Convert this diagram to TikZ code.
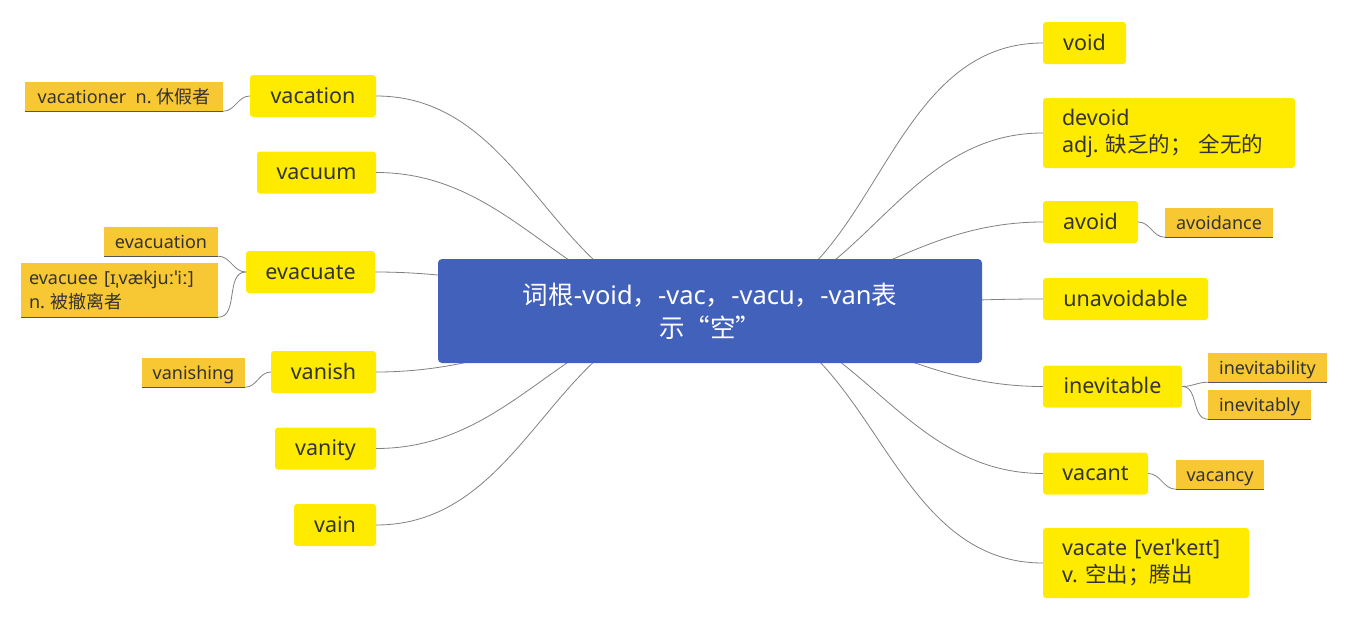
\documentclass[tikz,border=0pt]{standalone}
\usepackage{fontspec}
\setmainfont{Noto Sans}
\newfontfamily\cjk{Noto Sans CJK SC}
\usepackage{tikz}
\frenchspacing

\definecolor{rootblue}{RGB}{66,97,187}
\definecolor{topicyellow}{RGB}{255,235,0}
\definecolor{suborange}{RGB}{248,199,52}
\definecolor{inkgray}{RGB}{51,51,51}
\definecolor{linegray}{RGB}{128,128,128}
\definecolor{ulinegray}{RGB}{85,85,85}

\pgfdeclarelayer{bg}
\pgfsetlayers{bg,main}

\tikzset{
  rootbox/.style={fill=rootblue, rounded corners=4pt, text=white, align=center,
    minimum width=544pt, minimum height=104pt, font=\fontsize{25.5}{33}\selectfont},
  topicbox/.style={fill=topicyellow, rounded corners=3pt, text=inkgray, minimum height=42pt,
    inner xsep=19pt, font=\fontsize{21.5}{27}\selectfont},
  topic/.style={topicbox, text height=19pt, text depth=5pt},
  subbox/.style={fill=suborange, text=inkgray, minimum height=29pt, inner xsep=10pt,
    font=\fontsize{18}{24}\selectfont},
  subtopic/.style={subbox, text height=16pt, text depth=3pt},
  branch/.style={draw=linegray, line width=0.8pt},
  underline/.style={draw=ulinegray, line width=1pt},
}

\begin{document}
\begin{tikzpicture}[x=1pt,y=-1pt]
\useasboundingbox (0,0) rectangle (1348,621);

% central topic
\node[rootbox] (root) at (710,311)
  {{\cjk 词根}-void{\cjk ，}-vac{\cjk ，}-vacu{\cjk ，}-van{\cjk 表}\\{\cjk 示“空”}};

% right side
\node[topic, minimum width=83pt] (void) at (1084.5,43) {void};
\node[topicbox, text width=214pt, align=left, minimum height=70pt] (devoid) at (1169,133)
  {devoid\\adj. {\cjk 缺乏的； 全无的}};
\node[topic, minimum width=95pt] (avoid) at (1090.5,222) {avoid};
\node[topic, minimum width=165pt] (unavoidable) at (1125.5,299) {unavoidable};
\node[topic, minimum width=139pt] (inevitable) at (1112.5,386.5) {inevitable};
\node[topic, minimum width=105pt] (vacant) at (1095.5,473.5) {vacant};
\node[topicbox, text width=168pt, align=left, minimum height=70pt] (vacate) at (1146,563)
  {vacate [veɪˈkeɪt]\\v. {\cjk 空出；腾出}};

\node[subtopic, minimum width=108pt] (avoidance) at (1219,222.5) {avoidance};
\node[subtopic, minimum width=119pt] (inevitability) at (1267.5,367.5) {inevitability};
\node[subtopic, minimum width=103pt] (inevitably) at (1259.5,404.5) {inevitably};
\node[subtopic, minimum width=88pt] (vacancy) at (1220,474.5) {vacancy};

% left side
\node[topic, minimum width=126pt] (vacation) at (313,96) {vacation};
\node[topic, minimum width=119pt] (vacuum) at (316.5,172.5) {vacuum};
\node[topic, minimum width=129pt] (evacuate) at (310.5,272) {evacuate};
\node[topic, minimum width=105pt] (vanish) at (323.5,372) {vanish};
\node[topic, minimum width=101pt] (vanity) at (325.5,448.5) {vanity};
\node[topic, minimum width=82pt] (vain) at (335,525) {vain};

\node[subtopic, minimum width=198pt] (vacationer) at (124,96.5) {vacationer~ n. {\cjk 休假者}};
\node[subtopic, minimum width=114pt] (evacuation) at (161,241.5) {evacuation};
\node[subbox, inner xsep=8pt, text width=181pt, align=left, minimum height=54pt] (evacuee) at (119.5,290)
  {evacuee [ɪˌvækjuːˈiː]\\n. {\cjk 被撤离者}};
\node[subtopic, minimum width=103pt] (vanishing) at (193.5,372.5) {vanishing};

% branches
\begin{pgfonlayer}{bg}
\foreach \n in {void,devoid,avoid,unavoidable,inevitable,vacant,vacate}
  \draw[branch] (root.center) to[out=0,in=180] (\n.west);
\foreach \n in {vacation,vacuum,evacuate,vanish,vanity,vain}
  \draw[branch] (root.center) to[out=180,in=0] (\n.east);
\end{pgfonlayer}

\draw[branch] (vacation.west) to[out=180,in=0] (vacationer.south east);
\draw[branch] (evacuate.west) to[out=180,in=0] (evacuation.south east);
\draw[branch] (evacuate.west) to[out=180,in=0] (evacuee.south east);
\draw[branch] (vanish.west) to[out=180,in=0] (vanishing.south east);
\draw[branch] (avoid.east) to[out=0,in=180] (avoidance.south west);
\draw[branch] (inevitable.east) to[out=0,in=180] (inevitability.south west);
\draw[branch] (inevitable.east) to[out=0,in=180] (inevitably.south west);
\draw[branch] (vacant.east) to[out=0,in=180] (vacancy.south west);

\foreach \s in {vacationer,evacuation,evacuee,vanishing,avoidance,inevitability,inevitably,vacancy}
  \draw[underline] (\s.south west) -- (\s.south east);
\end{tikzpicture}
\end{document}
